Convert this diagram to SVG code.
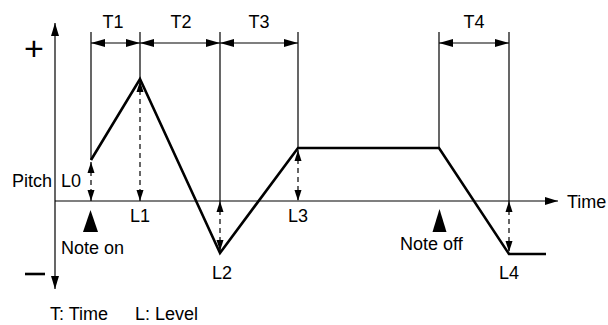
<svg xmlns="http://www.w3.org/2000/svg" width="608" height="325" viewBox="0 0 608 325">
<style>
  text { font-family: "Liberation Sans", Arial, sans-serif; font-size: 18px; fill: #000; }
  .thin { stroke: #000; stroke-width: 1.2; fill: none; }
  .env { stroke: #000; stroke-width: 2.6; fill: none; stroke-linejoin: miter; }
  .dim { stroke: #000; stroke-width: 1.2; fill: none; marker-start: url(#dimS); marker-end: url(#dimE); }
  .lvl { stroke: #000; stroke-width: 1.2; fill: none; stroke-dasharray: 5 4; marker-start: url(#lvlS); marker-end: url(#lvlE); }
</style>
<defs>
  <marker id="dimE" markerUnits="userSpaceOnUse" markerWidth="16" markerHeight="10" refX="14" refY="4" orient="auto">
    <path d="M0,0 L14,4 L0,8 z" fill="#000"/>
  </marker>
  <marker id="dimS" markerUnits="userSpaceOnUse" markerWidth="16" markerHeight="10" refX="0" refY="4" orient="auto">
    <path d="M14,0 L0,4 L14,8 z" fill="#000"/>
  </marker>
  <marker id="lvlE" markerUnits="userSpaceOnUse" markerWidth="12" markerHeight="8" refX="11" refY="3.5" orient="auto">
    <path d="M0,0 L11,3.5 L0,7 z" fill="#000"/>
  </marker>
  <marker id="lvlS" markerUnits="userSpaceOnUse" markerWidth="12" markerHeight="8" refX="0" refY="3.5" orient="auto">
    <path d="M11,0 L0,3.5 L11,7 z" fill="#000"/>
  </marker>
  <marker id="axE" markerUnits="userSpaceOnUse" markerWidth="14" markerHeight="10" refX="13" refY="4" orient="auto">
    <path d="M0,0 L13,4 L0,8 z" fill="#000"/>
  </marker>
</defs>

<g id="axes">
  <line class="thin" x1="55" y1="201" x2="55" y2="23" marker-end="url(#axE)"/>
  <line class="thin" x1="55" y1="201" x2="55" y2="289" marker-end="url(#axE)"/>
  <line class="thin" x1="55" y1="201" x2="558" y2="201" marker-end="url(#axE)"/>
  <text x="24" y="60" style="font-size:34px">+</text>
  <line x1="25" y1="274" x2="45" y2="274" stroke="#000" stroke-width="2.6"/>
  <text x="567" y="208">Time</text>
  <text x="12" y="187">Pitch</text>
</g>

<g id="guides">
  <line class="thin" x1="91" y1="32" x2="91" y2="160"/>
  <line class="thin" x1="140" y1="32" x2="140" y2="79"/>
  <line class="thin" x1="220" y1="32" x2="220" y2="201"/>
  <line class="thin" x1="298" y1="32" x2="298" y2="148"/>
  <line class="thin" x1="439" y1="32" x2="439" y2="148"/>
  <line class="thin" x1="509" y1="32" x2="509" y2="201"/>
</g>

<g id="time-dims">
  <line class="dim" x1="91" y1="43" x2="140" y2="43"/>
  <line class="dim" x1="140" y1="43" x2="220" y2="43"/>
  <line class="dim" x1="220" y1="43" x2="298" y2="43"/>
  <line class="dim" x1="439" y1="43" x2="509" y2="43"/>
  <text x="113" y="28" text-anchor="middle">T1</text>
  <text x="181" y="28" text-anchor="middle">T2</text>
  <text x="259" y="28" text-anchor="middle">T3</text>
  <text x="474" y="28" text-anchor="middle">T4</text>
</g>

<g id="envelope">
  <polyline class="env" points="91,160 140,79 220,253 298,148 439,148 509,254 546,254"/>
</g>

<g id="levels">
  <line class="lvl" x1="91" y1="162" x2="91" y2="201"/>
  <line class="lvl" x1="140" y1="81" x2="140" y2="201"/>
  <line class="lvl" x1="220" y1="201" x2="220" y2="251"/>
  <line class="lvl" x1="298" y1="150" x2="298" y2="201"/>
  <line class="lvl" x1="509" y1="201" x2="509" y2="252"/>
  <text x="61" y="187">L0</text>
  <text x="140" y="222" text-anchor="middle">L1</text>
  <text x="222" y="279" text-anchor="middle">L2</text>
  <text x="298" y="222" text-anchor="middle">L3</text>
  <text x="509" y="279" text-anchor="middle">L4</text>
</g>

<g id="note-on">
  <polygon points="90.5,210 83,232 98,232" fill="#000"/>
  <text x="61" y="254">Note on</text>
</g>

<g id="note-off">
  <polygon points="439.5,209 432.5,232 446.5,232" fill="#000"/>
  <text x="400" y="250">Note off</text>
</g>

<g id="legend">
  <text x="50" y="320">T: Time</text>
  <text x="135" y="320">L: Level</text>
</g>
</svg>
